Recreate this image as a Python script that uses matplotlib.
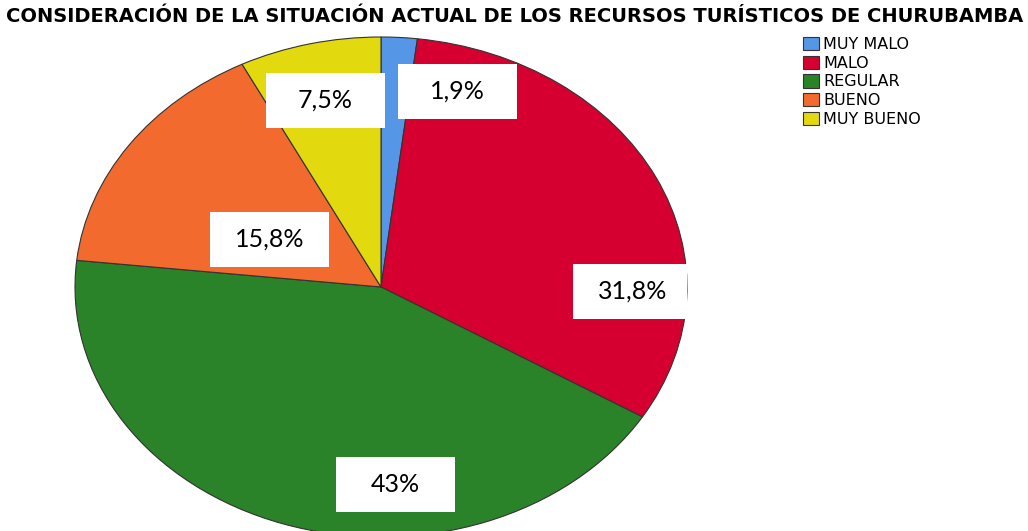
import matplotlib
matplotlib.use('Agg')
import matplotlib.pyplot as plt

# Data
categories = ['MUY MALO', 'MALO', 'REGULAR', 'BUENO', 'MUY BUENO']
percentages = [1.9, 31.8, 43.0, 15.8, 7.5]
pct_labels = ['1,9%', '31,8%', '43%', '15,8%', '7,5%']
colors = ['#5596e6', '#d5002f', '#2a8229', '#f36a2e', '#e2d90f']

# label box centres, in pie units (x/rx, y/ry)
label_pos = [(0.25, 0.782), (0.822, -0.018), (0.046, -0.79), (-0.363, 0.19), (-0.181, 0.748)]

fig = plt.figure(figsize=(10.28, 5.31), dpi=100)

# pie is drawn stretched into an ellipse
ax = fig.add_axes([75 / 1028, -6 / 531, 612 / 1028, 500 / 531])
wedges, _ = ax.pie(percentages, colors=colors, startangle=90, counterclock=False,
                   wedgeprops=dict(edgecolor='#333333', linewidth=0.8))
ax.set_aspect('auto')
ax.set_xlim(-1, 1)
ax.set_ylim(-1, 1)
ax.axis('off')

# white label boxes with fixed size
w, h = 119 / 306, 55 / 250
for txt, (x, y) in zip(pct_labels, label_pos):
    ax.add_patch(plt.Rectangle((x - w / 2, y - h / 2), w, h, facecolor='white',
                               edgecolor='none', zorder=3))
    ax.text(x, y, txt, ha='center', va='center', fontsize=18, family='Lato', zorder=4)

fig.suptitle('CONSIDERACIÓN DE LA SITUACIÓN ACTUAL DE LOS RECURSOS TURÍSTICOS DE CHURUBAMBA',
             x=515 / 1028, y=1 - 17 / 531, va='center', fontsize=14, fontweight='bold',
             family='DejaVu Sans')

fig.legend(wedges, categories, loc='upper left', bbox_to_anchor=(803 / 1028, 1 - 37 / 531),
           frameon=False, prop=dict(family='DejaVu Sans', size=11.5),
           handlelength=1.0, handleheight=0.9, handletextpad=0.25, labelspacing=0.22,
           borderpad=0, borderaxespad=0)

fig.savefig('out.png', dpi=100)
